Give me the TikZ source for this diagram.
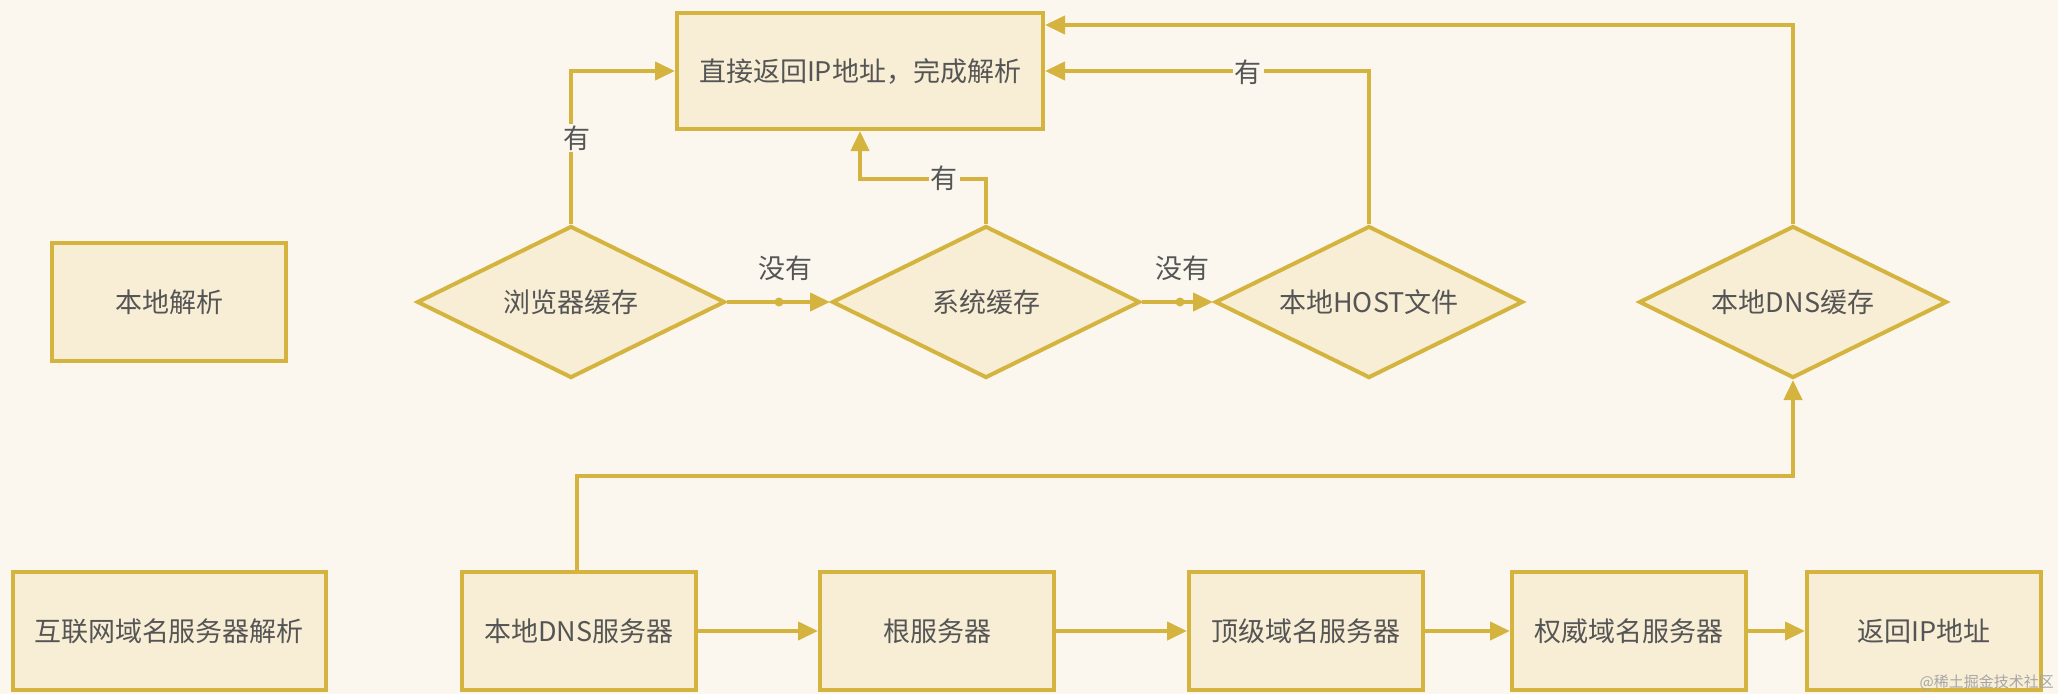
\documentclass[tikz,border=0pt]{standalone}
\usepackage{fontspec}
\setmainfont{Noto Sans CJK SC}
\usetikzlibrary{shapes.geometric,arrows.meta}
\definecolor{bgc}{HTML}{FBF7EE}
\definecolor{fillc}{HTML}{F8EED5}
\definecolor{gold}{HTML}{D4B43E}
\definecolor{txt}{HTML}{555555}
\begin{document}
\begin{tikzpicture}[x=1pt,y=-1pt,
  every node/.style={text=txt, font=\fontsize{27}{32}\selectfont},
  box/.style={draw=gold, fill=fillc, line width=4pt, minimum width=234pt, minimum height=118pt, inner sep=0pt},
  dia/.style={diamond, draw=gold, fill=fillc, line width=4pt, minimum width=308pt, minimum height=152pt, inner sep=0pt, aspect=2},
  conn/.style={draw=gold, line width=4pt, -{Triangle[length=20pt,width=18pt]}},
  lab/.style={fill=bgc, inner sep=2pt}]
\fill[bgc] (0,0) rectangle (2058,694);
\useasboundingbox (0,0) rectangle (2058,694);

\node[box] (local) at (169,302) {本地解析};
\node[box, minimum width=313pt] (inet) at (169,631) {互联网域名服务器解析};
\node[box, minimum width=366pt, minimum height=116pt] (ans) at (860,71) {直接返回IP地址，完成解析};

\node[dia] (bc) at (571,302) {浏览器缓存};
\node[dia] (sc) at (986,302) {系统缓存};
\node[dia] (hf) at (1369,302) {本地HOST文件};
\node[dia] (dc) at (1793,302) {本地DNS缓存};

\node[box] (ldns) at (579,631) {本地DNS服务器};
\node[box] (root) at (937,631) {根服务器};
\node[box] (tld) at (1306,631) {顶级域名服务器};
\node[box] (auth) at (1629,631) {权威域名服务器};
\node[box] (ret) at (1924,631) {返回IP地址};

% yes paths
\draw[conn] (bc.north) |- (ans.west);
\node[lab] (l1) at (577,138) {有};
\draw[conn] (sc.north) -- ++(0,-45) -| (ans.south);
\node[lab] (l2) at (944,178) {有};
\draw[conn] (hf.north) |- (ans.east);
\node[lab] (l3) at (1248,72) {有};
\draw[conn] (dc.north) |- ([yshift=46pt]ans.east);

% no paths
\draw[conn] (bc.east) -- (sc.west);
\coordinate (d1) at (779,302);
\fill[gold] (d1) circle (4.5pt);
\node (n1) at (785,268) {没有};
\draw[conn] (sc.east) -- (hf.west);
\coordinate (d2) at (1180,302);
\fill[gold] (d2) circle (4.5pt);
\node (n2) at (1182,268) {没有};

% server chain
\draw[conn] (ldns.east) -- (root.west);
\draw[conn] (root.east) -- (tld.west);
\draw[conn] (tld.east) -- (auth.west);
\draw[conn] (auth.east) -- (ret.west);
\draw[conn] ([xshift=-2pt]ldns.north) -- ++(0,-94) -| (dc.south);

\node[font=\fontsize{15}{17}\selectfont, text=gray!70, anchor=south east, inner sep=2pt] (wm) at (2056,692) {@稀土掘金技术社区};
\end{tikzpicture}
\end{document}
